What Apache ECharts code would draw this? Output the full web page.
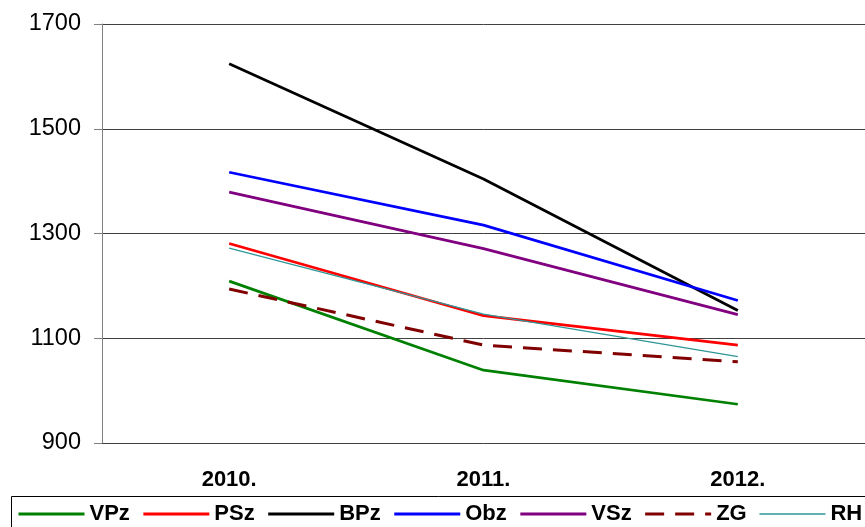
<!DOCTYPE html>
<html>
<head>
<meta charset="utf-8">
<script src="https://cdn.jsdelivr.net/npm/echarts@6/dist/echarts.min.js"></script>
<style>
html,body{margin:0;padding:0;background:#fff;}
#chart{width:865px;height:527px;}
</style>
</head>
<body>
<div id="chart"></div>
<script>
var categories = ['2010.', '2011.', '2012.'];
var VPz = [1209, 1039, 974];
var PSz = [1281, 1143, 1087];
var BPz = [1624, 1404, 1153];
var Obz = [1417, 1316, 1172];
var VSz = [1379, 1271, 1145];
var ZG  = [1194, 1087, 1055];
var RH  = [1272, 1146, 1065];
var yTicks = [900, 1100, 1300, 1500, 1700];

var seriesDefs = [
  {name: 'VPz', data: VPz, color: '#008000', width: 2.75},
  {name: 'PSz', data: PSz, color: '#ff0000', width: 2.75},
  {name: 'BPz', data: BPz, color: '#000000', width: 2.75},
  {name: 'Obz', data: Obz, color: '#0000ff', width: 2.75},
  {name: 'VSz', data: VSz, color: '#800080', width: 2.75},
  {name: 'ZG',  data: ZG,  color: '#800000', width: 3, dash: [19, 11]},
  {name: 'RH',  data: RH,  color: '#2e9696', width: 1.25}
];

var chart = echarts.init(document.getElementById('chart'), null, {renderer: 'canvas'});
var option = {
  animation: false,
  backgroundColor: '#fff',
  grid: {left: 102, right: -2, top: 24, bottom: 84, containLabel: false},
  xAxis: {
    type: 'category',
    data: categories,
    boundaryGap: true,
    axisLine: {show: false},
    axisTick: {show: false},
    axisLabel: {
      margin: 26,
      color: '#000',
      fontFamily: 'Liberation Sans, Arial, sans-serif',
      fontWeight: 'bold',
      fontSize: 22
    },
    splitLine: {show: false}
  },
  yAxis: {
    type: 'value',
    min: yTicks[0],
    max: yTicks[yTicks.length - 1],
    interval: 200,
    axisLine: {show: true, lineStyle: {color: '#808080', width: 1}},
    axisTick: {show: true, inside: false, length: 8, lineStyle: {color: '#808080'}},
    axisLabel: {
      margin: 21,
      color: '#000',
      fontFamily: 'Liberation Sans, Arial, sans-serif',
      fontSize: 23.5,
      formatter: function (v) { return String(v); }
    },
    splitLine: {show: true, lineStyle: {color: '#404040', width: 1}}
  },
  legend: {
    left: 17,
    top: 503,
    width: 900,
    padding: 0,
    itemWidth: 66,
    itemHeight: 14,
    itemGap: 12,
    itemStyle: {opacity: 0},
    textStyle: {
      color: '#000',
      fontFamily: 'Liberation Sans, Arial, sans-serif',
      fontWeight: 'bold',
      fontSize: 22
    },
    data: seriesDefs.map(function (s) {
      return {name: s.name, lineStyle: {width: s.width < 2 ? 1.5 : 3}};
    })
  },
  graphic: [{
    type: 'rect',
    left: 9,
    top: 494,
    shape: {x: 0, y: 0, width: 880, height: 50},
    style: {fill: 'none', stroke: '#000', lineWidth: 1},
    silent: true,
    z: 0
  }],
  series: seriesDefs.map(function (s) {
    return {
      name: s.name,
      type: 'line',
      data: s.data,
      symbol: 'none',
      color: s.color,
      lineStyle: {color: s.color, width: s.width, type: s.dash ? s.dash : 'solid'},
      itemStyle: {color: s.color}
    };
  })
};
chart.setOption(option);
</script>
</body>
</html>
